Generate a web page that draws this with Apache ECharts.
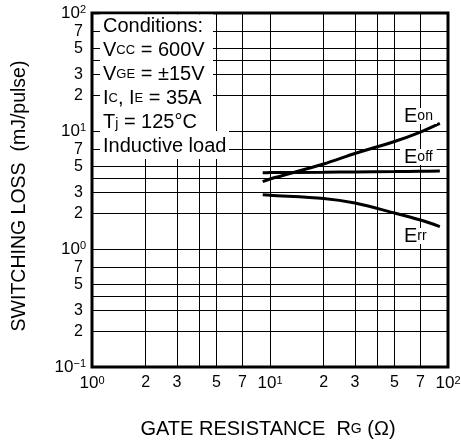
<!DOCTYPE html>
<html><head><meta charset="utf-8">
<script src="https://cdn.jsdelivr.net/npm/echarts@6/dist/echarts.min.js"></script>
<style>html,body{margin:0;padding:0;background:#fff}#c{width:461px;height:441px}</style>
</head><body><div id="c"></div>
<script>
// ---- data ----
const rg   = [9.1, 10, 20, 30, 50, 70, 90];
const eOn  = [3.72, 3.92, 5.25, 6.45, 8.15, 9.8, 11.6];
const eOff = [4.43, 4.44, 4.47, 4.5, 4.53, 4.56, 4.58];
const eRr  = [2.88, 2.85, 2.68, 2.45, 2.02, 1.76, 1.55];
const xRange = [1, 100];
const yRange = [0.1, 100];
const xGridValues = [2, 3, 4, 5, 7, 20, 30, 40, 50, 70];
const xGridLabels = ['2', '3', '', '5', '7', '2', '3', '', '5', '7'];
const yGridValues = [0.2, 0.3, 0.4, 0.5, 0.7, 2, 3, 4, 5, 7, 20, 30, 40, 50, 70];
const yGridLabels = ['2', '3', '', '5', '7', '2', '3', '', '5', '7', '2', '3', '', '5', '7'];
const conditionLines = [
  '{n|Conditions:}',
  '{n|V}{s|CC}{n| = 600V}',
  '{n|V}{s|GE}{n| = \u00B115V}',
  '{n|I}{s|C}{n|, I}{s|E}{n| = 35A}',
  '{n|T}{j|j}{n| = 125\u00B0C}',
  '{n|Inductive load}'
];
const xTitle = '{n|GATE RESISTANCE  R}{s|G}{n| (\u03A9)}';
const yTitle = 'SWITCHING LOSS  (mJ/pulse)';

// ---- chart ----
const FONT = '"Liberation Sans", Arial, Helvetica, sans-serif';
const chart = echarts.init(document.getElementById('c'), null, {renderer: 'canvas'});

function pairs(xs, ys) { return xs.map((x, i) => [x, ys[i]]); }
function decadeLabel(v) {
  const e = Math.round(Math.log10(v));
  return '{b|10}{s|' + (e < 0 ? '\u2212' + (-e) : e) + '}';
}
const decRich = {
  b: {fontSize: 17, lineHeight: 17, fontFamily: FONT, color: '#000'},
  s: {fontSize: 11, lineHeight: 11, verticalAlign: 'top', fontFamily: FONT, color: '#000'}
};

const gridMarks = [];
xGridValues.forEach((v, i) => gridMarks.push({
  xAxis: v,
  label: {show: !!xGridLabels[i], formatter: xGridLabels[i] || ' ', position: 'start', distance: 8}
}));
yGridValues.forEach((v, i) => gridMarks.push({
  yAxis: v,
  label: {show: !!yGridLabels[i], formatter: yGridLabels[i] || ' ', position: 'start', distance: 9}
}));

const richText = {
  n: {fontSize: 20, lineHeight: 24, fontFamily: FONT, color: '#000'},
  s: {fontSize: 13, lineHeight: 20, fontFamily: FONT, color: '#000'},
  j: {fontSize: 14, lineHeight: 20, padding: [5, 0, 0, 0], fontFamily: FONT, color: '#000'}
};
const eRich = {
  e: {fontSize: 20, lineHeight: 16, fontFamily: FONT, color: '#000'},
  x: {fontSize: 14, lineHeight: 16, fontFamily: FONT, color: '#000'}
};
function eLabel(sub, x, y) {
  return {type: 'text', left: x, top: y, z: 20,
    style: {text: '{e|E}{x|' + sub + '}', rich: eRich, backgroundColor: '#fff', padding: [0, 4, 0, 4]}};
}

const lineStyle = {color: '#000', width: 3};
const option = {
  animation: false,
  backgroundColor: '#fff',
  textStyle: {fontFamily: FONT, color: '#000'},
  grid: {left: 92, top: 13, width: 356, height: 354, show: true, borderColor: '#000', borderWidth: 3,
         backgroundColor: 'transparent', containLabel: false, outerBoundsMode: 'none'},
  xAxis: {
    type: 'log', logBase: 10, min: xRange[0], max: xRange[1],
    axisLine: {show: false}, axisTick: {show: false},
    splitLine: {show: true, lineStyle: {color: '#000', width: 1}},
    minorSplitLine: {show: false},
    axisLabel: {formatter: decadeLabel, rich: decRich, margin: 8, showMinLabel: true, showMaxLabel: true, hideOverlap: false}
  },
  yAxis: {
    type: 'log', logBase: 10, min: yRange[0], max: yRange[1],
    axisLine: {show: false}, axisTick: {show: false},
    splitLine: {show: true, lineStyle: {color: '#000', width: 1}},
    axisLabel: {formatter: decadeLabel, rich: decRich, margin: 6, showMinLabel: true, showMaxLabel: true, hideOverlap: false}
  },
  series: [
    {
      type: 'line', data: [], z: 1, silent: true, symbol: 'none',
      markLine: {
        silent: true, symbol: ['none', 'none'], animation: false,
        lineStyle: {color: '#000', width: 1, type: 'solid'},
        label: {color: '#000', fontSize: 16, fontFamily: FONT},
        emphasis: {disabled: true},
        data: gridMarks
      }
    },
    {name: 'Eon', type: 'line', data: pairs(rg, eOn), symbol: 'none', smooth: 0.3, lineStyle: lineStyle, z: 3},
    {name: 'Eoff', type: 'line', data: pairs(rg, eOff), symbol: 'none', smooth: 0.3, lineStyle: lineStyle, z: 3},
    {name: 'Err', type: 'line', data: pairs(rg, eRr), symbol: 'none', smooth: 0.3, lineStyle: lineStyle, z: 3}
  ],
  graphic: [
    {type: 'rect', z: 10, shape: {x: 100, y: 14.5, width: 113, height: 117}, style: {fill: '#fff'}},
    {type: 'rect', z: 10, shape: {x: 100, y: 131, width: 129, height: 28}, style: {fill: '#fff'}},
    {type: 'text', z: 11, left: 103, top: 16,
      style: {text: conditionLines.join('\n'), rich: richText}},
    eLabel('on', 400, 106),
    eLabel('off', 400, 147),
    eLabel('rr', 400, 226),
    {type: 'text', z: 11, x: 268, y: 429.5,
      style: {text: xTitle, rich: {
        n: {fontSize: 20, lineHeight: 24, fontFamily: FONT, color: '#000'},
        s: {fontSize: 14, lineHeight: 20, fontFamily: FONT, color: '#000'}},
        align: 'center', verticalAlign: 'middle'}},
    {type: 'text', z: 11, x: 20, y: 196, rotation: Math.PI / 2,
      style: {text: yTitle, fontSize: 19.5, fontFamily: FONT, fill: '#000', align: 'center', verticalAlign: 'middle'}}
  ]
};
chart.setOption(option);
</script>
</body></html>
